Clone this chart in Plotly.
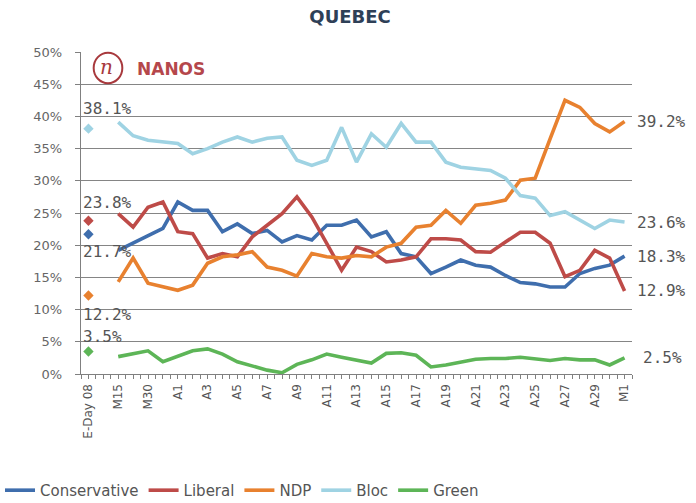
import plotly.graph_objects as go

# ---------------- data ----------------
parties = ["Conservative", "Liberal", "NDP", "Bloc", "Green"]
colors = ["#3F6EAD", "#BE4B48", "#E8812F", "#9FD3E3", "#5DB557"]

# one label every second category (E-Day 08 ... M1)
tick_labels = ["E-Day 08", "M15", "M30", "A1", "A3", "A5", "A7", "A9", "A11",
               "A13", "A15", "A17", "A19", "A21", "A23", "A25", "A27", "A29", "M1"]

# 2008 election-day results (first category)
eday = [21.7, 23.8, 12.2, 38.1, 3.5]

# daily tracking (categories 2 .. 36)
conservative = [19.2, 20.3, 21.5, 22.6, 26.7, 25.4, 25.4, 22.1, 23.3, 21.8, 22.3, 20.5,
                21.5, 20.8, 23.1, 23.1, 23.9, 21.3, 22.1, 18.7, 18.2, 15.6, 16.6, 17.7,
                16.9, 16.6, 15.3, 14.2, 14.0, 13.5, 13.5, 15.6, 16.4, 16.9, 18.3]
liberal = [24.9, 22.8, 25.9, 26.7, 22.1, 21.8, 18.0, 18.7, 18.2, 21.3, 23.1, 24.9,
           27.5, 24.4, 20.3, 16.1, 19.7, 19.0, 17.4, 17.7, 18.2, 21.0, 21.0, 20.8,
           19.0, 18.9, 20.5, 22.0, 22.0, 20.3, 15.1, 16.1, 19.2, 18.0, 12.9]
ndp = [14.3, 18.0, 14.1, 13.5, 13.0, 13.8, 17.2, 18.2, 18.5, 19.0, 16.6, 16.1,
       15.2, 18.7, 18.2, 18.0, 18.4, 18.2, 19.7, 20.3, 22.8, 23.1, 25.4, 23.4,
       26.2, 26.5, 27.0, 30.1, 30.4, 36.5, 42.5, 41.4, 38.9, 37.6, 39.2]
bloc = [39.1, 37.0, 36.3, 36.0, 35.8, 34.2, 35.0, 36.0, 36.8, 36.0, 36.6, 36.8,
        33.2, 32.4, 33.2, 38.3, 32.9, 37.3, 35.2, 38.9, 36.0, 36.0, 32.9, 32.1,
        31.9, 31.6, 30.4, 27.7, 27.3, 24.6, 25.2, 23.9, 22.6, 23.9, 23.6]
green = [2.7, 3.1, 3.6, 1.9, 2.8, 3.6, 3.9, 3.1, 1.9, 1.2, 0.6, 0.2, 1.5, 2.2, 3.1,
         2.6, 2.2, 1.7, 3.2, 3.3, 2.9, 1.1, 1.4, 1.9, 2.3, 2.4, 2.4, 2.6, 2.4, 2.1,
         2.4, 2.2, 2.2, 1.4, 2.5]

series = [conservative, liberal, ndp, bloc, green]

# ---------------- figure ----------------
n_cat = 2 * len(tick_labels) - 1
start = n_cat - len(conservative)
x_track = list(range(start, n_cat))

fig = go.Figure()
for name, col, vals, e in zip(parties, colors, series, eday):
    fig.add_trace(go.Scatter(
        x=x_track, y=vals, mode="lines", name=name,
        line=dict(color=col, width=3.6), legendgroup=name))
    fig.add_trace(go.Scatter(
        x=[0], y=[e], mode="markers", showlegend=False, legendgroup=name,
        marker=dict(symbol="diamond", size=8, color=col)))

lab_font = dict(family="DejaVu Sans Mono", size=16, color="#555555")
left_shift = [-17, 18, -19, 20, 15]
for vals, e, ys in zip(series, eday, left_shift):
    fig.add_annotation(x=0, y=e, text=f"{e:.1f}%", showarrow=False,
                       xanchor="left", yanchor="middle", xshift=-7, yshift=ys,
                       font=lab_font)
    last = vals[-1]
    fig.add_annotation(x=n_cat - 1, y=last, text=f"{last:.1f}%", showarrow=False,
                       xanchor="left", yanchor="middle",
                       xshift=16 if last < 10 else 10, font=lab_font)

# NANOS logo
fig.add_shape(type="circle", xref="paper", yref="paper",
              x0=0.023, x1=0.075, y0=0.903, y1=0.998,
              line=dict(color="#A8393D", width=2))
fig.add_annotation(xref="paper", yref="paper", x=0.049, y=0.950, text="<i>n</i>",
                   xanchor="center", yanchor="middle", xshift=-1, yshift=1,
                   showarrow=False,
                   font=dict(family="DejaVu Serif", size=20, color="#A8393D"))
fig.add_annotation(xref="paper", yref="paper", x=0.098, y=0.947, text="<b>NANOS</b>",
                   xanchor="left", yanchor="middle", showarrow=False,
                   font=dict(family="DejaVu Sans", size=17, color="#B5474B"))

fig.update_layout(
    width=696, height=503,
    margin=dict(l=81, r=64, t=51.5, b=129, autoexpand=False),
    paper_bgcolor="white", plot_bgcolor="white",
    title=dict(text="<b>QUEBEC</b>", x=0.503, xanchor="center", y=0.966, yanchor="middle",
               font=dict(family="DejaVu Sans", size=18, color="#2E4057")),
    showlegend=True,
    legend=dict(orientation="h", xref="container", yref="container",
                x=-0.012, xanchor="left", y=0.025, yanchor="middle",
                font=dict(family="DejaVu Sans", size=15, color="#555555"),
                itemwidth=30, tracegroupgap=0),
    xaxis=dict(range=[-0.5, n_cat - 0.5], tickmode="array", automargin=False,
               tickvals=list(range(0, n_cat, 2)), ticktext=tick_labels,
               tickangle=-90, ticks="outside", ticklen=4, tickcolor="#808080",
               showline=True, linecolor="#808080", linewidth=1.4,
               showgrid=False, zeroline=False,
               tickfont=dict(family="DejaVu Sans", size=12, color="#555555"),
               minor=dict(tickmode="linear", tick0=-0.5, dtick=0.5, ticks="outside",
                          ticklen=4, tickcolor="#808080", showgrid=False)),
    yaxis=dict(range=[0, 50], tickmode="linear", tick0=0, dtick=5, ticksuffix="%",
               automargin=False,
               ticks="outside", ticklen=5, tickcolor="#808080",
               showline=True, linecolor="#808080", linewidth=1.4,
               showgrid=True, gridcolor="#858585", gridwidth=1.3, zeroline=False,
               ticklabelstandoff=10,
               tickfont=dict(family="DejaVu Sans", size=13, color="#666666")),
)

fig.write_html("out.html", config={"displayModeBar": False},
               post_script="document.body.style.margin='0';")
